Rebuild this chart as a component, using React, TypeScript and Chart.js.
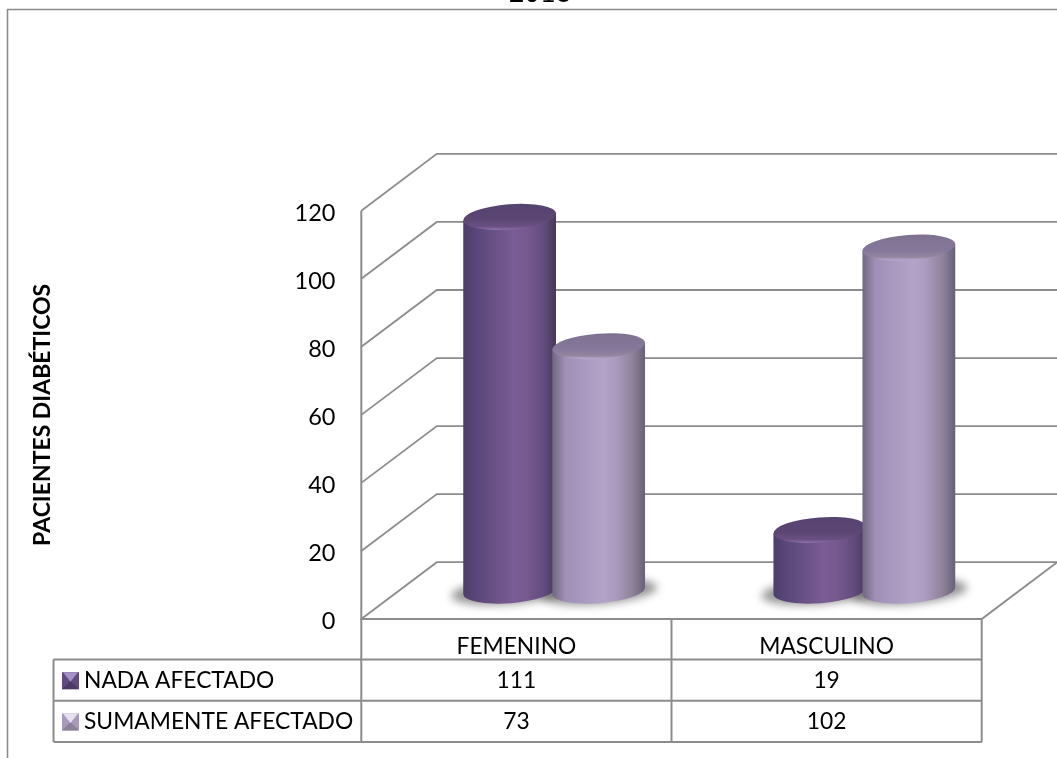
import React, { useEffect, useRef } from "react";
import { Chart, registerables } from "chart.js";

Chart.register(...registerables);

const categories = ["FEMENINO", "MASCULINO"];
const seriesNames = ["NADA AFECTADO", "SUMAMENTE AFECTADO"];
const nadaAfectado = [111, 19];
const sumamenteAfectado = [73, 102];
const chartTitle = "2013";
const yAxisTitle = "PACIENTES DIABÉTICOS";

const FONT = "Lato, Carlito, sans-serif";
const LINE = "#8c8c8c";
const TEXT_SIZE = 22.8;

// Depth of the fake 3D box and the tilt of the cylinder caps.
const DEPTH_X = 75.5;
const DEPTH_Y = -56.8;
const TILT = -0.076;
const CAP_RY = 12.6;
const TOP_INSET = 4;

const palettes = [
  {
    body: ["#4c3d69", "#5a4778", "#7a5c96", "#77598f", "#634c7f", "#463859"],
    cap: ["#57436f", "#5c4774", "#6a5083", "#8a6ca8"],
    key: ["#a792c8", "#5f4b80", "#5f4b80", "#4d3b66"],
  },
  {
    body: ["#6e6880", "#a08fb6", "#b3a3c9", "#ab9bc0", "#8f8399", "#67607a"],
    cap: ["#7f7290", "#84779a", "#94869f", "#b9a9d0"],
    key: ["#e6e0f2", "#a89abc", "#a89abc", "#8d8198"],
  },
];

const cylinderPlugin = {
  id: "cylinders",
  beforeDatasetsDraw(chart: any) {
    const { ctx } = chart;
    const x = chart.scales.x;
    const y = chart.scales.y;
    const left = x.left;
    const right = x.right;
    const bottom = y.bottom;

    ctx.save();
    ctx.strokeStyle = LINE;
    ctx.lineWidth = 1.8;

    // Side wall and back wall gridlines at every axis tick.
    y.ticks.forEach((tick: any) => {
      const py = y.getPixelForValue(tick.value);
      ctx.beginPath();
      ctx.moveTo(left, py);
      ctx.lineTo(left + DEPTH_X, py + DEPTH_Y);
      ctx.lineTo(right + DEPTH_X, py + DEPTH_Y);
      ctx.stroke();
    });

    // Front axis line and floor outline.
    ctx.lineWidth = 2;
    ctx.beginPath();
    ctx.moveTo(left, y.top);
    ctx.lineTo(left, bottom);
    ctx.lineTo(right, bottom);
    ctx.lineTo(right + DEPTH_X, bottom + DEPTH_Y);
    ctx.stroke();

    // Tick labels sit slightly below the tick position.
    ctx.fillStyle = "#000";
    ctx.font = `23.5px ${FONT}`;
    ctx.textAlign = "right";
    ctx.textBaseline = "middle";
    y.ticks.forEach((tick: any) => {
      ctx.fillText(String(tick.value), 335.5, y.getPixelForValue(tick.value) + 2.5);
    });

    // Soft floor shadow beneath each cylinder.
    ctx.filter = "blur(4px)";
    ctx.fillStyle = "rgba(80,80,80,0.6)";
    chart.data.datasets.forEach((_: any, i: number) => {
      chart.getDatasetMeta(i).data.forEach((bar: any) => {
        ctx.beginPath();
        ctx.ellipse(bar.x + DEPTH_X / 2, bar.base + DEPTH_Y / 2 + 1, bar.width / 2 + 12, CAP_RY, TILT, 0, Math.PI * 2);
        ctx.fill();
      });
    });
    ctx.restore();
  },
  afterDatasetsDraw(chart: any) {
    const { ctx } = chart;
    ctx.save();
    chart.data.datasets.forEach((_: any, i: number) => {
      const colors = palettes[i];
      chart.getDatasetMeta(i).data.forEach((bar: any) => {
        const rx = bar.width / 2;
        const cx = bar.x + DEPTH_X / 2;
        const baseY = bar.base + DEPTH_Y / 2;
        const topY = bar.y + DEPTH_Y / 2 + TOP_INSET;
        const ex = rx * Math.cos(TILT);
        const ey = rx * Math.sin(TILT);

        const side = ctx.createLinearGradient(cx - rx, 0, cx + rx, 0);
        [0, 0.14, 0.55, 0.68, 0.86, 1].forEach((stop, k) => side.addColorStop(stop, colors.body[k]));
        ctx.fillStyle = side;
        ctx.beginPath();
        ctx.moveTo(cx - ex, topY - ey);
        ctx.lineTo(cx - ex, baseY - ey);
        ctx.ellipse(cx, baseY, rx, CAP_RY, TILT, Math.PI, 0, true);
        ctx.lineTo(cx + ex, topY + ey);
        ctx.closePath();
        ctx.fill();

        const cap = ctx.createLinearGradient(0, topY - CAP_RY, 0, topY + CAP_RY);
        [0, 0.6, 0.88, 1].forEach((stop, k) => cap.addColorStop(stop, colors.cap[k]));
        ctx.fillStyle = cap;
        ctx.beginPath();
        ctx.ellipse(cx, topY, rx, CAP_RY, TILT, 0, Math.PI * 2);
        ctx.fill();
      });
    });
    ctx.restore();
  },
  afterDraw(chart: any) {
    const { ctx } = chart;
    const x = chart.scales.x;
    const y = chart.scales.y;
    const tableLeft = 53.5;
    const rowTop = 659.5;
    const rowHeight = 41.3;
    const edges = [rowTop, rowTop + rowHeight, rowTop + rowHeight * 2];
    const colEdges = [x.left, (x.left + x.right) / 2, x.right];

    ctx.save();
    // Outer frame, open on the right and at the bottom.
    ctx.strokeStyle = LINE;
    ctx.lineWidth = 1.6;
    ctx.beginPath();
    ctx.moveTo(7.5, 758);
    ctx.lineTo(7.5, 9.5);
    ctx.lineTo(1057, 9.5);
    ctx.stroke();

    // Data table ruling.
    ctx.lineWidth = 2;
    ctx.beginPath();
    edges.forEach((ey) => {
      ctx.moveTo(tableLeft, ey);
      ctx.lineTo(x.right, ey);
    });
    colEdges.forEach((cx) => {
      ctx.moveTo(cx, y.bottom);
      ctx.lineTo(cx, edges[2]);
    });
    ctx.moveTo(tableLeft, edges[0]);
    ctx.lineTo(tableLeft, edges[2]);
    ctx.stroke();

    // Table rows: legend key, series name and one value per category.
    ctx.textBaseline = "middle";
    chart.data.datasets.forEach((ds: any, i: number) => {
      const mid = rowTop + rowHeight * (i + 0.5);
      const kx = 62;
      const ky = mid - 8;
      const k = 17;
      const c = palettes[i].key;
      const tri = (pts: number[][], color: string) => {
        ctx.fillStyle = color;
        ctx.beginPath();
        pts.forEach((p, n) => (n ? ctx.lineTo(p[0], p[1]) : ctx.moveTo(p[0], p[1])));
        ctx.closePath();
        ctx.fill();
      };
      tri([[kx, ky], [kx, ky + k], [kx + k, ky + k], [kx + k, ky]], c[1]);
      tri([[kx, ky + k], [kx + k / 2, ky + k / 2], [kx + k, ky + k]], c[3]);
      tri([[kx + 1, ky], [kx + k - 1, ky], [kx + k / 2, ky + k / 2 + 1]], c[0]);

      ctx.fillStyle = "#000";
      ctx.font = `${TEXT_SIZE}px ${FONT}`;
      ctx.textAlign = "left";
      ctx.fillText(ds.label, 84, mid);
      ctx.textAlign = "center";
      ds.data.forEach((v: number, j: number) => {
        ctx.fillText(String(v), x.getPixelForValue(j), mid);
      });
    });

    ctx.textAlign = "center";
    ctx.textBaseline = "alphabetic";
    ctx.font = `27px ${FONT}`;
    ctx.fillText(chartTitle, 540, 2);
    ctx.restore();
  },
};

export default function App() {
  const ref = useRef<HTMLCanvasElement>(null);

  useEffect(() => {
    const chart = new Chart(ref.current!, {
      type: "bar",
      data: {
        labels: categories,
        datasets: [
          { label: seriesNames[0], data: nadaAfectado, backgroundColor: "rgba(0,0,0,0)", categoryPercentage: 0.574, barPercentage: 1.045 },
          { label: seriesNames[1], data: sumamenteAfectado, backgroundColor: "rgba(0,0,0,0)", categoryPercentage: 0.574, barPercentage: 1.045 },
        ],
      },
      options: {
        responsive: false,
        animation: false,
        events: [],
        layout: { padding: { left: 0, right: 75.3, top: 210.7, bottom: 0 } },
        plugins: { legend: { display: false }, title: { display: false }, tooltip: { enabled: false } },
        scales: {
          x: {
            grid: { display: false, drawTicks: false },
            border: { display: false },
            ticks: { color: "#000", font: { family: FONT, size: TEXT_SIZE }, padding: 14, maxRotation: 0 },
            afterFit(scale: any) {
              scale.height = 139;
            },
          },
          y: {
            min: 0,
            max: 120,
            grid: { display: false },
            border: { display: false },
            ticks: { stepSize: 20, display: false },
            title: {
              display: true,
              text: yAxisTitle,
              color: "#000",
              font: { family: FONT, size: 23, weight: "bold" },
              padding: { top: 29, bottom: 0 },
            },
            afterFit(scale: any) {
              scale.width = 361.3;
            },
          },
        },
      },
      plugins: [cylinderPlugin],
    } as any);
    return () => chart.destroy();
  }, []);

  return (
    <canvas
      ref={ref}
      width={1057}
      height={758}
      style={{ position: "fixed", left: 0, top: 0, display: "block", background: "#fff" }}
    />
  );
}
